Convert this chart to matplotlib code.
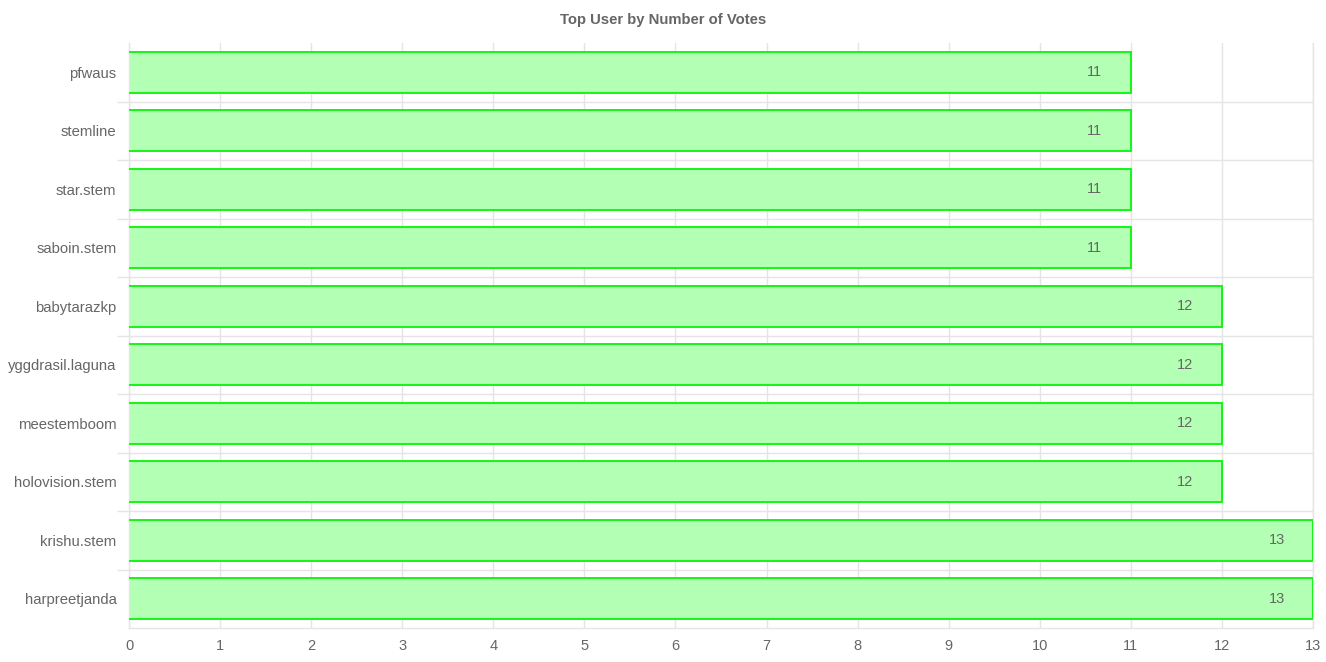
import numpy as np
import matplotlib
matplotlib.use('Agg')
import matplotlib.pyplot as plt

# data
users = ['pfwaus', 'stemline', 'star.stem', 'saboin.stem', 'babytarazkp',
         'yggdrasil.laguna', 'meestemboom', 'holovision.stem', 'krishu.stem',
         'harpreetjanda']
votes = [11, 11, 11, 11, 12, 12, 12, 12, 13, 13]
xticks = list(range(0, 14))

plt.rcParams['font.family'] = ['Liberation Sans', 'DejaVu Sans']
grey = '#666666'
gridc = '#e5e5e5'

fig = plt.figure(figsize=(13.26, 6.62), dpi=100)
ax = fig.add_axes([129/1326, 1-628/662, (1313-129)/1326, (628-43)/662])

y = np.arange(len(users))
h = 0.7
ax.barh(y, votes, height=h, color='#b3ffb3', edgecolor='none', zorder=2)
# border on top, right, bottom (left side skipped)
for yi, v in zip(y, votes):
    ax.plot([0, v, v, 0], [yi - h/2, yi - h/2, yi + h/2, yi + h/2],
            color='#14f514', lw=1.4, zorder=3, solid_joinstyle='miter')
    ax.text(v - 0.4, yi, str(v), ha='center', va='center', color=grey,
            fontsize=10.5, zorder=4)

ax.set_xlim(0, 13)
ax.set_ylim(len(users) - 0.5, -0.5)
ax.set_xticks(xticks)
ax.set_yticks(y)
ax.set_yticklabels(users)
ax.set_yticks(np.arange(0.5, len(users) - 1, 1.0), minor=True)

ax.tick_params(axis='x', length=0, pad=8, labelsize=10.5, labelcolor=grey)
ax.tick_params(axis='y', which='major', length=0, pad=9, labelsize=10.7,
               labelcolor=grey)
ax.tick_params(axis='y', which='minor', length=9, color=gridc, width=1)

ax.grid(axis='x', color=gridc, lw=1, zorder=0)
ax.grid(axis='y', which='minor', color=gridc, lw=1, zorder=0)
ax.set_axisbelow(True)

ax.spines['top'].set_visible(False)
for s in ['left', 'bottom', 'right']:
    ax.spines[s].set_color(gridc)
    ax.spines[s].set_linewidth(1)

fig.text(0.5, 1 - 20/662, 'Top User by Number of Votes', ha='center',
         va='center', fontsize=10.7, fontweight='bold', color=grey)

fig.savefig('out.png', dpi=100)
